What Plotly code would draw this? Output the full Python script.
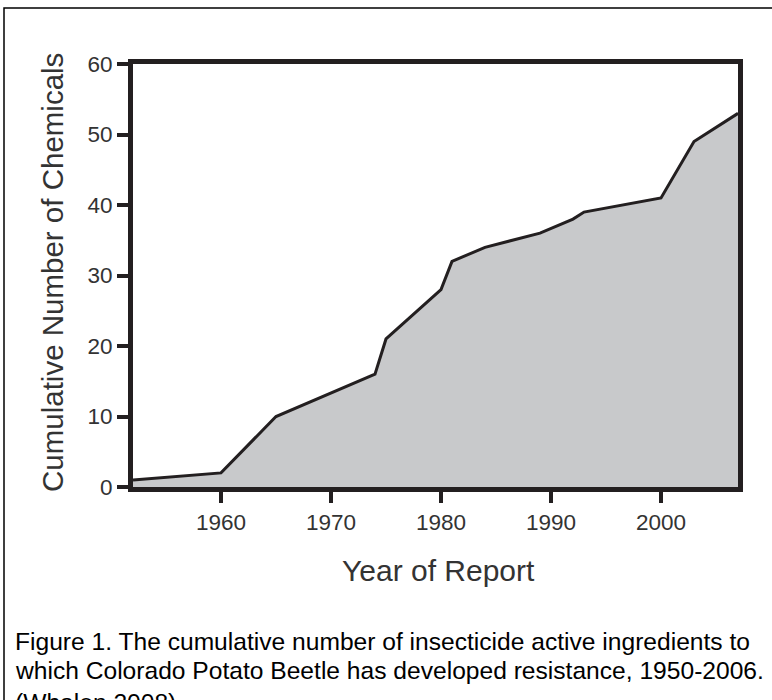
import plotly.graph_objects as go

years = [1952, 1960, 1965, 1974, 1975, 1980, 1981, 1984, 1989, 1992, 1993, 2000, 2003, 2007]
counts = [1, 2, 10, 16, 21, 28, 32, 34, 36, 38, 39, 41, 49, 53]
x_ticks = [1960, 1970, 1980, 1990, 2000]
y_ticks = [0, 10, 20, 30, 40, 50, 60]

x_title = "Year of Report"
y_title = "Cumulative Number of Chemicals"
caption_lines = [
    "Figure 1. The cumulative number of insecticide active ingredients to",
    "which Colorado Potato Beetle has developed resistance, 1950-2006.",
    "(Whalon 2008)",
]
caption_centers_px = [641, 670, 702]

W, H = 772, 700
L, R, T, B = 133, 34, 64, 213
pw, ph = W - L - R, H - T - B

def px_x(p):
    return (p - L) / pw

def px_y(p):
    return (H - B - p) / ph

FONT = "Arial, Liberation Sans, sans-serif"
DARK = "#231f20"

fig = go.Figure()
fig.add_trace(go.Scatter(
    x=years, y=counts, mode="lines", fill="tozeroy",
    fillcolor="#c8c9cb", line=dict(color=DARK, width=3), hoverinfo="skip",
))

axis_common = dict(
    showline=True, linewidth=5, linecolor=DARK, mirror=True,
    ticks="outside", ticklen=11, tickwidth=4, tickcolor=DARK,
    showgrid=False, zeroline=False,
    tickfont=dict(family=FONT, size=22.5, color="#333333"),
)

fig.update_xaxes(range=[1952, 2007], tickvals=x_ticks, **axis_common)
fig.update_yaxes(range=[0, 60], tickvals=y_ticks, **axis_common)

fig.add_annotation(
    text=x_title, xref="paper", yref="paper", x=px_x(438), y=px_y(570),
    showarrow=False, xanchor="center", yanchor="middle",
    font=dict(family=FONT, size=30, color="#333333"),
)
fig.add_annotation(
    text=y_title, xref="paper", yref="paper", x=px_x(52), y=px_y(273),
    showarrow=False, xanchor="center", yanchor="middle", textangle=-90,
    font=dict(family=FONT, size=29.5, color="#333333"),
)
for line, cy in zip(caption_lines, caption_centers_px):
    fig.add_annotation(
        text=line, xref="paper", yref="paper", x=px_x(13), y=px_y(cy),
        showarrow=False, xanchor="left", yanchor="middle", align="left",
        font=dict(family=FONT, size=24.6, color="#000000"),
    )

fig.add_shape(
    type="rect", xref="paper", yref="paper",
    x0=px_x(4), x1=px_x(790), y0=px_y(740), y1=px_y(8),
    line=dict(color="#000000", width=1.5), fillcolor="rgba(0,0,0,0)", layer="below",
)

fig.update_layout(
    width=W, height=H, margin=dict(l=L, r=R, t=T, b=B, pad=0),
    paper_bgcolor="white", plot_bgcolor="white", showlegend=False,
)

fig.write_html(
    "out.html",
    config={"displayModeBar": False},
    post_script="document.body.style.margin='0px';document.body.style.overflow='hidden';",
)
